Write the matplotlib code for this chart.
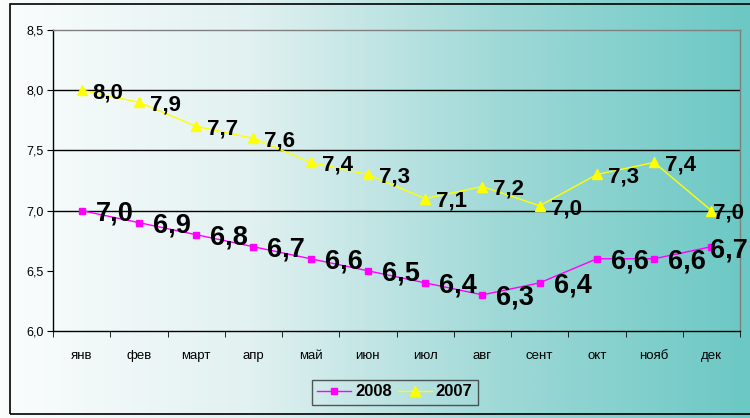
import numpy as np
import matplotlib.pyplot as plt
from matplotlib.colors import LinearSegmentedColormap
from matplotlib.patches import Rectangle

plt.rcParams['font.family'] = ['Liberation Sans', 'DejaVu Sans']

months = ['янв', 'фев', 'март', 'апр', 'май', 'июн', 'июл', 'авг', 'сент', 'окт', 'нояб', 'дек']
vals_2008 = [7.0, 6.9, 6.8, 6.7, 6.6, 6.5, 6.4, 6.3, 6.4, 6.6, 6.6, 6.7]
vals_2007 = [8.0, 7.9, 7.7, 7.6, 7.4, 7.3, 7.1, 7.2, 7.04, 7.3, 7.4, 7.0]
yticks = [6.0, 6.5, 7.0, 7.5, 8.0, 8.5]


def fmt(v):
    return f'{v:.1f}'.replace('.', ',')


fig = plt.figure(figsize=(7.5, 4.18), dpi=100)

# horizontal white-to-teal background over the whole figure
bg = fig.add_axes([0, 0, 1, 1], zorder=-10)
cmap = LinearSegmentedColormap.from_list('bg', ['#fbfdfd', '#e2f1f1', '#9fd9d7', '#6bc8c4'])
grad = np.linspace(0, 1, 512).reshape(1, -1)
bg.imshow(grad, aspect='auto', cmap=cmap, extent=[0, 1, 0, 1])
bg.set_axis_off()

# outer chart frame
fig.patches.append(Rectangle((10 / 750, 1 - 414 / 418), 1.0, (414 - 4) / 418,
                             transform=fig.transFigure, fill=False,
                             edgecolor='black', linewidth=1.2))

ax = fig.add_axes([53 / 750, 1 - 331 / 418, (740 - 53) / 750, (331 - 30) / 418])
ax.patch.set_alpha(0)

x = np.arange(len(months))
ax.plot(x, vals_2008, color='#ff00ff', marker='s', markersize=5, linewidth=1, label='2008', zorder=3)
ax.plot(x, vals_2007, color='#ffff00', marker='^', markersize=6.5, linewidth=1, label='2007', zorder=3)

last = len(months) - 1
for xi, v in zip(x, vals_2007):
    off = (1, -2) if xi == last else (8, -2)
    ax.annotate(fmt(v), (xi, v), xytext=off, textcoords='offset points',
                ha='left', va='center', fontsize=16, fontweight='bold', color='black', zorder=4)
for xi, v in zip(x, vals_2008):
    off = (-1, -3) if xi == last else (10, -2)
    ax.annotate(fmt(v), (xi, v), xytext=off, textcoords='offset points',
                ha='left', va='center', fontsize=19.5, fontweight='bold', color='black', zorder=4)

ax.set_xlim(-0.5, len(months) - 0.5)
ax.set_ylim(6.0, 8.5)
ax.set_yticks(yticks)
ax.set_yticklabels([fmt(t) for t in yticks], fontsize=9)
ax.set_xticks(x)
ax.set_xticklabels(months, fontsize=9.5)
ax.tick_params(axis='x', length=0, pad=14)
ax.set_xticks(np.arange(-0.5, len(months)), minor=True)
ax.tick_params(axis='x', which='minor', length=4, direction='out', color='black')
ax.tick_params(axis='y', length=4, direction='out', color='black', pad=3)

for t in [7.0, 7.5, 8.0]:
    ax.axhline(t, color='black', linewidth=1, zorder=1)
ax.spines['left'].set_color('black')
ax.spines['bottom'].set_color('black')
ax.spines['top'].set_color('#808080')
ax.spines['right'].set_color('#808080')
for s in ax.spines.values():
    s.set_linewidth(1)

leg = ax.legend(loc='center', bbox_to_anchor=(395 / 750, 1 - 392 / 418),
                bbox_transform=fig.transFigure, ncol=2, frameon=True, fancybox=False,
                prop={'weight': 'bold', 'size': 12}, handlelength=2.0, columnspacing=0.4,
                handletextpad=0.25, borderpad=0.3, borderaxespad=0)
leg.get_frame().set_facecolor('none')
leg.get_frame().set_edgecolor('#303030')
leg.get_frame().set_linewidth(1)

fig.savefig('out.png', dpi=100)
